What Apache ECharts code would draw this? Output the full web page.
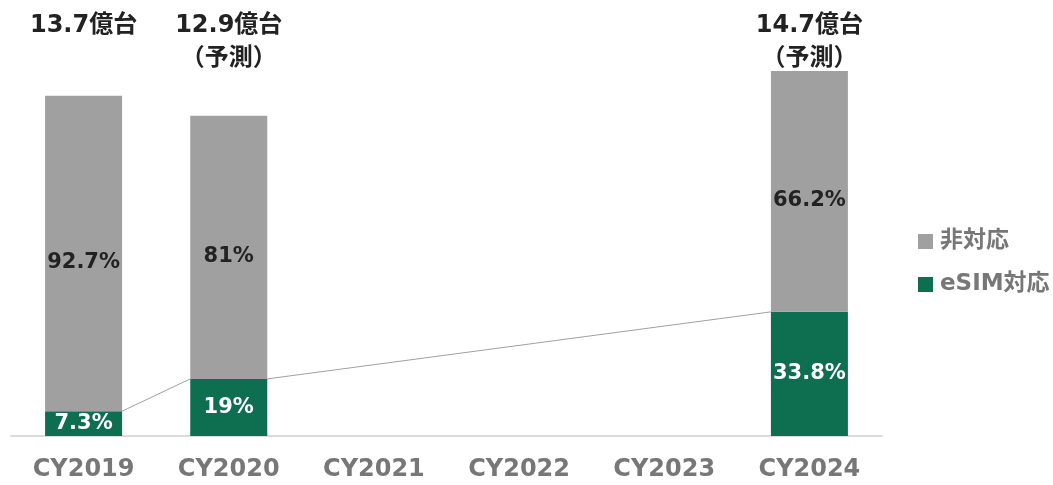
<!DOCTYPE html>
<html>
<head>
<meta charset="utf-8">
<script src="https://cdn.jsdelivr.net/npm/echarts@6/dist/echarts.min.js"></script>
<style>
  html, body { margin: 0; padding: 0; background: #fff; }
  #chart { width: 1053px; height: 485px; }
</style>
</head>
<body>
<div id="chart"></div>
<script>
const YEARS = ['CY2019', 'CY2020', 'CY2021', 'CY2022', 'CY2023', 'CY2024']
const TOTAL_LABELS = ['13.7億台', '12.9億台\n（予測）', '', '', '', '14.7億台\n（予測）']
// 億台
const ESIM_UNITS = [1.0, 2.3, null, null, null, 5.0]
const OTHER_UNITS = [12.7, 10.6, null, null, null, 9.7]
const ESIM_SHARE = ['7.3%', '19%', '', '', '', '33.8%']
const OTHER_SHARE = ['92.7%', '81%', '', '', '', '66.2%']

const FONT = '"DejaVu Sans", "Noto Sans CJK JP", sans-serif'
const GRAY = '#a0a0a0'
const GREEN = '#0e6e50'
const BAR_WIDTH = 77

// pairs of consecutive existing bars: [fromIndex, fromValue, toIndex, toValue]
function buildLinks(values) {
  const idx = values.map((v, i) => (v == null ? -1 : i)).filter((i) => i >= 0)
  const links = []
  for (let k = 0; k + 1 < idx.length; k++) {
    links.push([idx[k], values[idx[k]], idx[k + 1], values[idx[k + 1]]])
  }
  return links
}

const chart = echarts.init(document.getElementById('chart'))

chart.setOption({
  animation: false,
  textStyle: { fontFamily: FONT },
  grid: { left: 11, right: 171, top: 71, bottom: 49 },
  legend: {
    orient: 'vertical',
    left: 913,
    top: 225,
    itemGap: 19,
    itemWidth: 15,
    itemHeight: 15,
    itemGap: 20,
    icon: 'rect',
    data: ['非対応', 'eSIM対応'],
    textStyle: { fontFamily: FONT, fontSize: 23, fontWeight: 'bold', color: '#777', padding: [0, 0, 0, 2] }
  },
  xAxis: [
    {
      type: 'category',
      data: YEARS,
      axisLine: { lineStyle: { color: '#d0d0d0', width: 1.5 } },
      axisTick: { show: false },
      axisLabel: {
        margin: 22,
        fontFamily: FONT,
        fontSize: 24,
        fontWeight: 'bold',
        color: '#777'
      }
    },
    {
      type: 'category',
      position: 'top',
      data: TOTAL_LABELS,
      axisLine: { show: false },
      axisTick: { show: false },
      axisLabel: {
        margin: 62,
        verticalAlign: 'top',
        lineHeight: 33,
        fontFamily: FONT,
        fontSize: 24,
        fontWeight: 'bold',
        color: '#222'
      }
    }
  ],
  yAxis: {
    type: 'value',
    min: 0,
    max: 14.7,
    show: false,
    splitLine: { show: false }
  },
  series: [
    {
      name: 'link',
      type: 'custom',
      silent: true,
      z: 1,
      data: buildLinks(ESIM_UNITS),
      renderItem: (params, api) => {
        const a = api.coord([api.value(0), api.value(1)])
        const b = api.coord([api.value(2), api.value(3)])
        return {
          type: 'line',
          shape: { x1: a[0] + BAR_WIDTH / 2, y1: a[1], x2: b[0] - BAR_WIDTH / 2, y2: b[1] },
          style: { stroke: GRAY, lineWidth: 1 }
        }
      }
    },
    {
      name: 'eSIM対応',
      type: 'bar',
      stack: 'total',
      barWidth: BAR_WIDTH,
      data: ESIM_UNITS,
      itemStyle: { color: GREEN },
      z: 3,
      label: {
        show: true,
        position: 'inside',
        formatter: (p) => ESIM_SHARE[p.dataIndex],
        fontFamily: FONT,
        fontSize: 21,
        fontWeight: 'bold',
        color: '#fff'
      }
    },
    {
      name: '非対応',
      type: 'bar',
      stack: 'total',
      barWidth: BAR_WIDTH,
      data: OTHER_UNITS,
      itemStyle: { color: GRAY },
      z: 3,
      label: {
        show: true,
        position: 'inside',
        offset: [0, 9],
        formatter: (p) => OTHER_SHARE[p.dataIndex],
        fontFamily: FONT,
        fontSize: 21,
        fontWeight: 'bold',
        color: '#222'
      }
    }
  ]
})
</script>
</body>
</html>
